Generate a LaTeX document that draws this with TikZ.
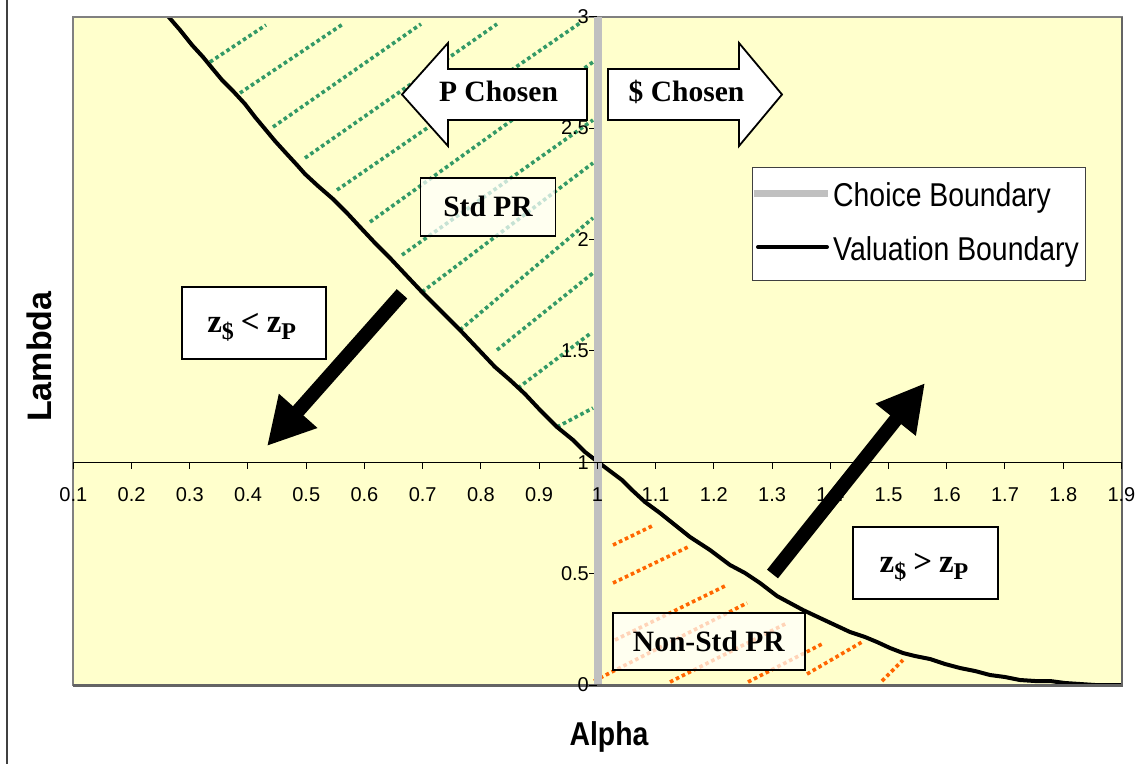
\documentclass[tikz,border=0pt]{standalone}
\usepackage{fontspec}
\setmainfont{Liberation Serif}
\newfontfamily\axisfont{Liberation Sans}
\newfontfamily\legfont[FakeStretch=0.86]{Liberation Sans}
\usetikzlibrary{arrows.meta}
\definecolor{plotbg}{RGB}{255,255,204}
\definecolor{hatchgreen}{RGB}{51,153,102}
\definecolor{hatchorange}{RGB}{255,102,0}
\definecolor{choicegray}{RGB}{192,192,192}
\definecolor{framegray}{RGB}{128,128,128}
\definecolor{shadowgray}{RGB}{100,100,100}
\newcommand{\zsub}[1]{\raisebox{-7pt}{\fontsize{24}{24}\selectfont #1}}
\begin{document}
\begin{tikzpicture}[x=1pt,y=-1pt,
  ghatch/.style={draw=hatchgreen,line width=3.6pt,dash pattern=on 3.6pt off 3pt},
  ohatch/.style={draw=hatchorange,line width=3.6pt,dash pattern=on 3.6pt off 3pt},
  blockarrow/.style={draw=black,fill=white,line width=1.8pt,line join=miter},
  labeltext/.style={font=\fontsize{29.5}{29.5}\selectfont\bfseries,inner sep=0pt,anchor=base},
  prbox/.style={draw=black,line width=1.8pt,fill=white,fill opacity=0.72,text opacity=1,
    font=\fontsize{29.5}{29.5}\selectfont\bfseries,inner sep=0pt},
  zbox/.style={draw=black,line width=1.8pt,fill=white,inner sep=0pt},
  ztext/.style={font=\fontsize{33}{33}\selectfont\bfseries,inner sep=0pt,anchor=base},
  xticklab/.style={font=\axisfont\fontsize{20}{20}\selectfont,inner sep=0pt,anchor=base},
  yticklab/.style={font=\axisfont\fontsize{20}{20}\selectfont,inner sep=0pt,anchor=east},
  legtext/.style={font=\legfont\fontsize{33}{33}\selectfont,inner sep=0pt,anchor=base west},
  bigarrow/.style={line width=14pt,-{Triangle[length=47pt,width=48pt]}},
  valcurve/.style={line width=4pt,line join=round,line cap=round},
]
\useasboundingbox (0,0) rectangle (1142,764);
% outer frame edge
\draw[color=black!75,line width=2pt] (7,0) -- (7,764);
% plot area
\fill[plotbg] (73.3,16.6) rectangle (1121.5,685);
% green hatching (Std PR region)
\draw[ghatch] (210,62) -- (266,25);
\draw[ghatch] (240,93) -- (343,24);
\draw[ghatch] (273,127) -- (421,24);
\draw[ghatch] (305,158) -- (497,24);
\draw[ghatch] (337,190) -- (580,23);
\draw[ghatch] (370,222) -- (593,62);
\draw[ghatch] (402,255) -- (593,120);
\draw[ghatch] (422,292) -- (593,163);
\draw[ghatch] (460,330) -- (593,218);
\draw[ghatch] (497,350) -- (593,273);
\draw[ghatch] (518,388) -- (591,333);
\draw[ghatch] (557,427) -- (593,408);
% orange hatching (Non-Std PR region)
\draw[ohatch] (613,545) -- (652,526);
\draw[ohatch] (613,583) -- (688,547);
\draw[ohatch] (615,640) -- (727,585);
\draw[ohatch] (594,681) -- (747,603);
\draw[ohatch] (670,682) -- (787,623);
\draw[ohatch] (748,682) -- (822,644);
\draw[ohatch] (807,674) -- (862,642);
\draw[ohatch] (882,681) -- (903,660);
% valuation boundary
\begin{scope}
\clip (73.3,16.6) rectangle (1121.5,685);
\draw[valcurve] plot coordinates {(167,15) (180,30) (192,45) (203,57) (212,68) (222,80) (233,91) (245,104) (255,117) (265,129) (275,141) (285,152) (297,165) (305,174) (318,186) (333,199) (347,213) (360,227) (375,243) (390,258) (405,274) (422,292) (440,310) (460,330) (478,349) (495,367) (510,380) (525,394) (540,410) (557,427) (573,440) (585,452) (598,462) (610,471) (622,480) (632,490) (645,502) (660,513) (675,525) (690,537) (710,550) (730,565) (745,573) (760,583) (777,596) (790,603) (803,610) (820,618) (835,625) (850,632) (865,637) (877,642) (890,648) (903,653) (915,656) (930,659) (945,664) (960,668) (975,671) (990,675) (1005,677) (1020,680) (1035,681) (1050,681) (1065,683) (1080,684) (1095,685) (1125,685)};
\end{scope}
% plot border
\draw[framegray,line width=2pt] (73.3,16.6) rectangle (1121.5,685);
\draw[shadowgray,line width=2.5pt] (73.3,685.5) -- (1122,685.5) -- (1122,16.6);
% y ticks
\foreach \yy in {16.6,128,239.4,350.8,462.2,573.6,685} \draw[line width=1pt] (589,\yy) -- (597,\yy);
% choice boundary
\draw[choicegray,line width=8pt] (597.5,16.6) -- (597.5,684);
% x axis at lambda = 1
\draw[line width=1.2pt] (73.3,462.2) -- (1121.5,462.2);
\foreach \k in {0,...,18} \draw[line width=1pt] ({73.3+\k*58.23},462.2) -- ({73.3+\k*58.23},468.5);
% x tick labels
\foreach \lab [count=\k from 0] in {0.1,0.2,0.3,0.4,0.5,0.6,0.7,0.8,0.9,1,1.1,1.2,1.3,1.4,1.5,1.6,1.7,1.8,1.9}
  \node[xticklab] (xl\k) at ({73.3+\k*58.23},501.7) {\lab};
% y tick labels
\foreach \lab/\yy [count=\k] in {0/685,0.5/573.6,1/462.2,1.5/350.8,2/239.4,2.5/128,3/16.6}
  \node[yticklab] (yl\k) at (589,\yy) {\lab};
% region boxes
\node[prbox,minimum width=135pt,minimum height=58pt] (stdpr) at (488,206.7) {Std PR};
\node[prbox,minimum width=192pt,minimum height=57pt] (nonstdpr) at (708.8,641.7) {Non-Std PR};
% choice block arrows
\draw[blockarrow] (402,94.5) -- (448,43) -- (448,69) -- (587,69) -- (587,120) -- (448,120) -- (448,146) -- cycle;
\node[labeltext] (pchosen) at (498.5,101.7) {P Chosen};
\draw[blockarrow] (608,69) -- (739,69) -- (739,43) -- (782,94.5) -- (739,146) -- (739,120) -- (608,120) -- cycle;
\node[labeltext] (dchosen) at (686.5,101.7) {\$ Chosen};
% z boxes
\node[zbox,minimum width=144pt,minimum height=72pt] (zlessbox) at (253.7,322.8) {};
\node[ztext] (zless) at (251.7,332.7) {z\zsub{\$}\hspace{7pt}<\hspace{7pt}z\zsub{P}};
\node[zbox,minimum width=145pt,minimum height=72pt] (zmorebox) at (925.8,563) {};
\node[ztext] (zmore) at (924,572.7) {z\zsub{\$}\hspace{7pt}>\hspace{7pt}z\zsub{P}};
% big direction arrows
\coordinate (dlstart) at (402,293.8);
\coordinate (dlend) at (267,446);
\coordinate (urstart) at (772.5,574);
\coordinate (urend) at (925,383);
\draw[bigarrow] (dlstart) -- (dlend);
\draw[bigarrow] (urstart) -- (urend);
% legend
\node[draw=black!75,line width=1pt,fill=white,minimum width=333pt,minimum height=113pt,inner sep=0pt] (legend) at (918.5,223.5) {};
\coordinate (lgA1) at (754,193);
\coordinate (lgA2) at (828,193);
\coordinate (lgB1) at (758,247);
\coordinate (lgB2) at (827,247);
\draw[choicegray,line width=7pt] (lgA1) -- (lgA2);
\draw[line width=4pt,line cap=round] (lgB1) -- (lgB2);
\node[legtext] (legchoice) at (833,206.5) {Choice Boundary};
\node[legtext] (legval) at (833,260) {Valuation Boundary};
% axis titles
\node[font=\axisfont\bfseries\fontsize{34}{34}\selectfont,rotate=90,inner sep=0pt] (lambda) at (39.5,356.7) {Lambda};
\node[font=\legfont\bfseries\fontsize{33}{33}\selectfont,inner sep=0pt,anchor=base] (alpha) at (609,745) {Alpha};
\end{tikzpicture}
\end{document}
